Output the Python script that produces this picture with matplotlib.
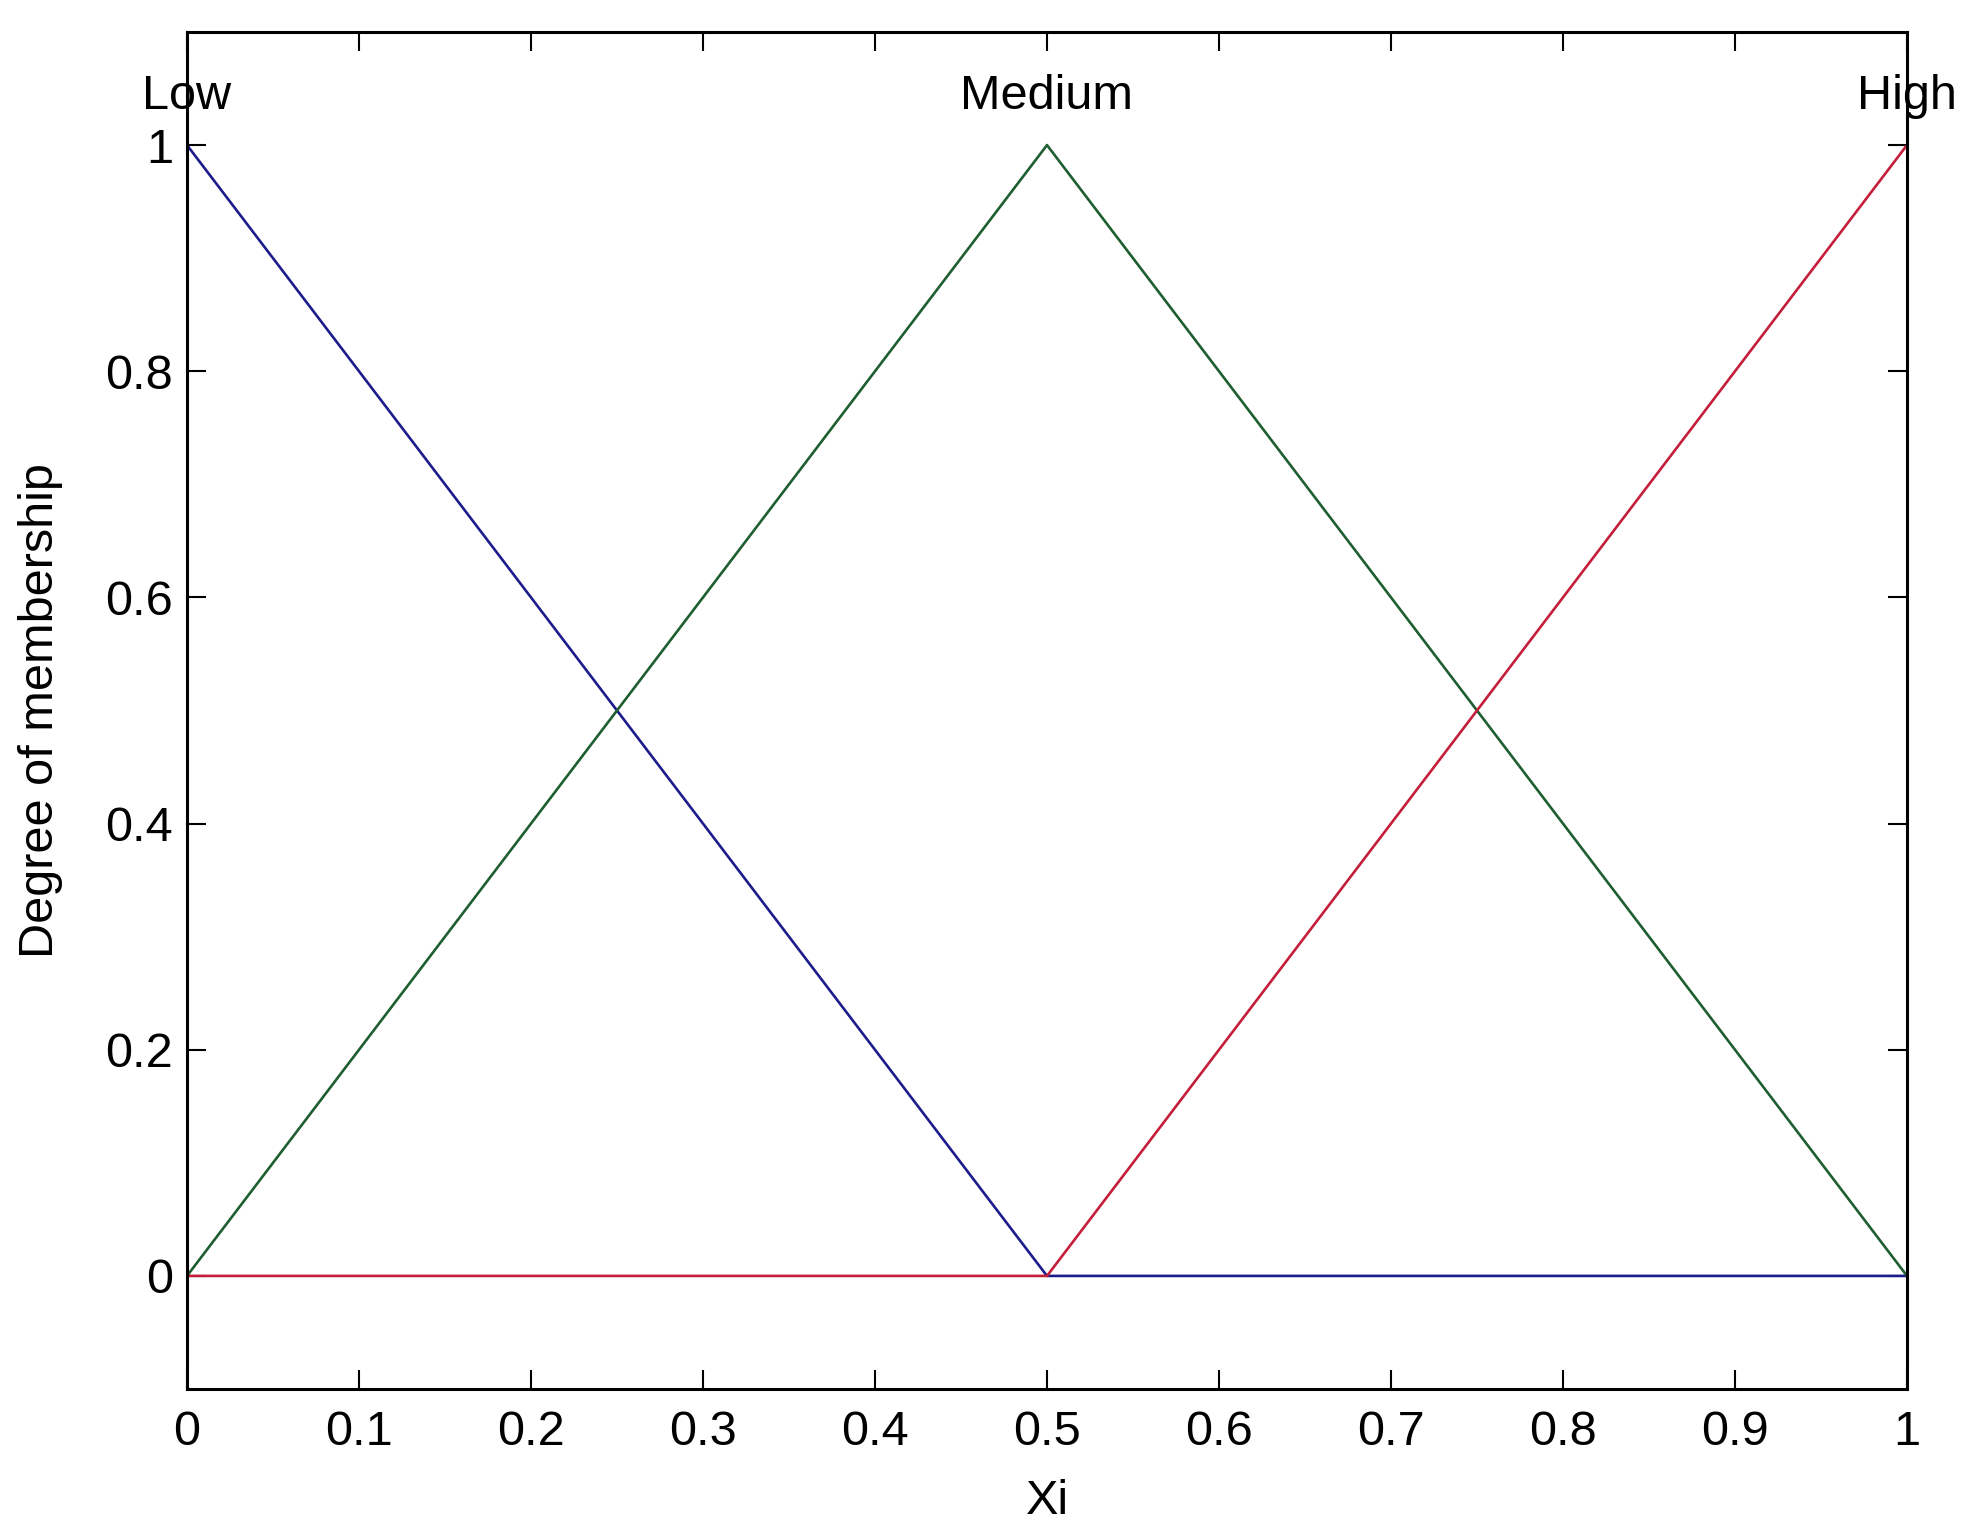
import matplotlib
matplotlib.use("Agg")
import matplotlib.pyplot as plt

# Data
xi = [0.0, 0.5, 1.0]
low = [1.0, 0.0, 0.0]
medium = [0.0, 1.0, 0.0]
high = [0.0, 0.0, 1.0]
mf_names = ["Low", "Medium", "High"]
mf_peaks = [0.0, 0.5, 1.0]
xticks = [0, 0.1, 0.2, 0.3, 0.4, 0.5, 0.6, 0.7, 0.8, 0.9, 1]
xtick_labels = ["0", "0.1", "0.2", "0.3", "0.4", "0.5", "0.6", "0.7", "0.8", "0.9", "1"]
yticks = [0, 0.2, 0.4, 0.6, 0.8, 1]
ytick_labels = ["0", "0.2", "0.4", "0.6", "0.8", "1"]

plt.rcParams['font.family'] = ['Liberation Sans', 'DejaVu Sans']
fs = 35

fig = plt.figure(figsize=(19.73, 15.37), dpi=100)
ax = fig.add_axes([187/1973, 1 - 1389/1537, (1907-187)/1973, (1389-32)/1537])

lw = 1.9
ax.plot(xi, low, color='#1c1c8c', lw=lw)
ax.plot(xi, medium, color='#1e5e30', lw=lw)
ax.plot(xi, high, color='#c41e3a', lw=lw)

for name, px in zip(mf_names, mf_peaks):
    ax.text(px, 1.043, name, ha='center', va='center', fontsize=fs, clip_on=False)

ax.set_xlim(0, 1)
ax.set_ylim(-0.1, 1.1)
ax.set_xticks(xticks)
ax.set_xticklabels(xtick_labels)
ax.set_yticks(yticks)
ax.set_yticklabels(ytick_labels)
ax.tick_params(direction='in', length=14, width=1.5, top=True, right=True,
               labelsize=fs, pad=10)
ax.tick_params(axis='x', pad=15)

for s in ax.spines.values():
    s.set_linewidth(2.2)

ax.set_xlabel("Xi", fontsize=fs, va='center')
ax.xaxis.set_label_coords(0.5, -0.083)
ax.set_ylabel("Degree of membership", fontsize=fs, va='center')
ax.yaxis.set_label_coords((41-187)/1720, 0.5)

fig.savefig("out.png", dpi=100, facecolor='white')
